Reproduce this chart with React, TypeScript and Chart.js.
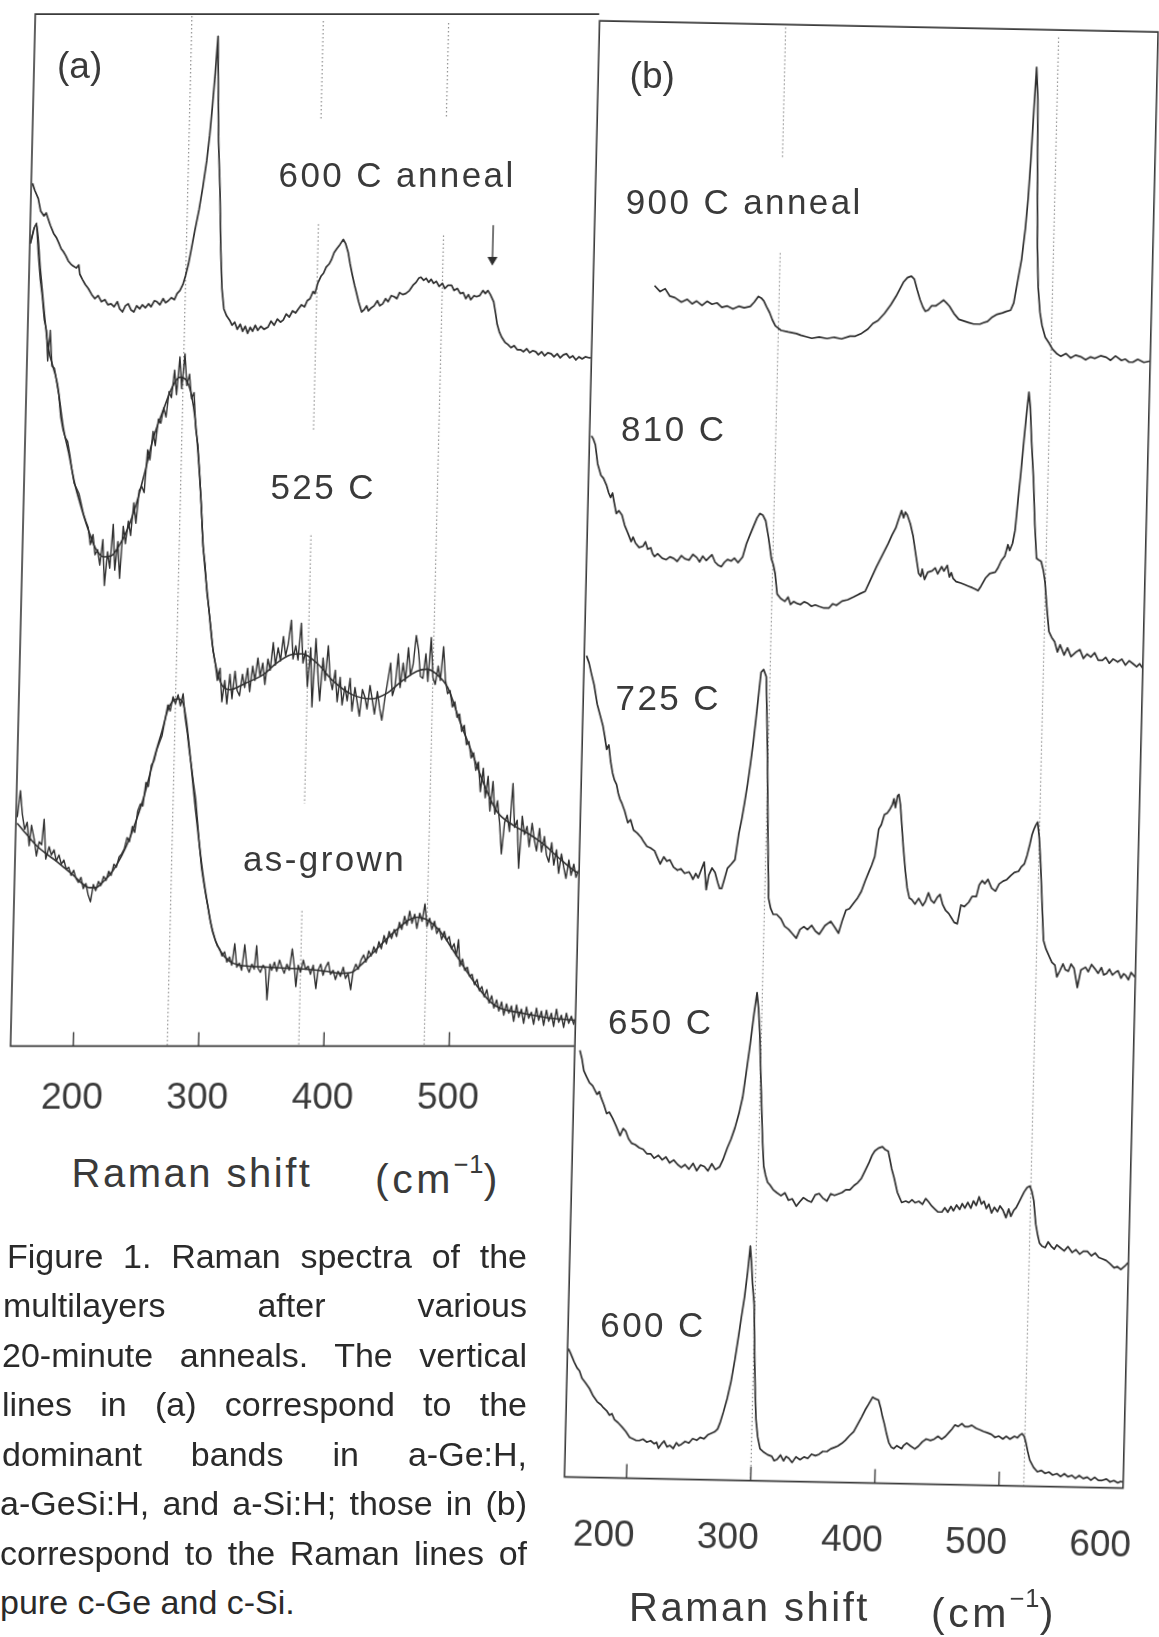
import React, { useEffect, useRef } from "react";
import { Chart, registerables } from "chart.js";

Chart.register(...registerables);

type Pt = [number, number | null];

// ---------------- shared ----------------
const FONT = '"Liberation Sans", Arial, Helvetica, sans-serif';
const INK = "#2f2f2f";
const TEXT = "#3a3a3a";
const REF = "#8e8e8e";

// ---------------- panel (a) data ----------------
const panelAShiftRange = [150, 600];
const panelAIntensityRange = [-0.63, 100.48];
const panelATickValues = [200, 300, 400, 500];
const panelATickLabels = ["200", "300", "400", "500"];

const a600Anneal: Pt[] = [[151,83.9],[153,83.2],[155.9,82.4],[158,81.2],[160.8,80.7],[162.5,81.0],[163.9,80.5],[166,79.8],[168.8,79.0],[171,78.6],[173,78.1],[175.1,77.5],[177,77.2],[179,76.8],[181,76.3],[183.1,76.0],[185,75.8],[187.7,75.6],[189.5,75.9],[190.5,75.0],[192.6,74.5],[195,74.0],[197.5,73.6],[200.4,73.0],[203,72.6],[205.5,72.9],[208.3,72.3],[211,72.5],[213.5,72.0],[216,72.1],[218.5,71.8],[221,72.3],[223,71.6],[225.3,71.3],[227.5,71.9],[229.7,72.1],[232,71.5],[234.4,71.3],[236.5,71.9],[239,71.6],[241,72.0],[243.5,71.7],[246,72.1],[248,71.8],[250.5,72.4],[252.6,72.3],[255,72.0],[257.5,72.6],[259.5,72.2],[261.7,72.4],[264,72.7],[266.5,72.5],[268.5,73.1],[270.7,73.4],[273,74.0],[275,74.9],[277,76.0],[279.1,77.5],[281.5,79.3],[284.4,81.3],[287,83.5],[289.6,86.1],[291.5,88.6],[293.1,91.4],[294.8,94.8],[296.3,98.3],[297.5,93.0],[298.7,88.0],[300.8,83.1],[302.5,77.5],[304.2,73.6],[306.1,71.6],[308.5,70.9],[310.9,70.5],[313,70.0],[315,70.3],[317.2,69.6],[319.5,70.1],[321.5,69.4],[323.5,69.9],[325.5,69.2],[327.5,69.8],[329.4,69.4],[331.5,70.0],[333.5,69.5],[336,69.9],[338.5,69.6],[341.6,69.8],[344,70.4],[346.5,70.0],[349,70.6],[351.5,70.3],[353.7,70.5],[356,71.1],[358.5,70.8],[361,71.4],[363.5,71.2],[365.6,71.6],[368,72.0],[370.5,71.8],[372.5,72.4],[374.7,72.6],[377,73.3],[378.5,73.1],[380.5,74.1],[383,74.8],[385,75.1],[387,75.7],[389.3,76.0],[391,76.4],[393,77.1],[395.1,77.5],[397.5,77.9],[400.1,78.4],[402,78.0],[404.3,77.1],[406,76.0],[408,74.9],[410,73.9],[411.1,73.4],[413.5,72.3],[416.1,71.3],[418,71.5],[420,71.9],[421.5,71.4],[423.7,71.7],[426,71.9],[428.5,72.4],[430.5,71.9],[432.8,72.1],[435,72.6],[437,72.3],[439.5,72.9],[441.8,72.8],[444,72.6],[446,73.2],[448.5,73.0],[451,73.1],[453.9,73.4],[456.5,73.9],[459,74.2],[461,74.6],[462.8,74.7],[465,74.4],[467,74.6],[469,74.2],[471,74.5],[473,74.1],[475.1,74.3],[477.5,73.8],[480,74.1],[482,73.6],[484.5,73.9],[487.4,73.9],[489.5,73.4],[492,73.6],[494.5,73.1],[496.8,73.2],[499,72.6],[501,73.0],[503,72.5],[505.5,72.9],[507.5,72.8],[510,72.9],[512.5,73.4],[514.5,73.1],[516.5,73.4],[518.5,73.0],[521.3,72.3],[523,71.2],[524.5,70.1],[526.5,69.3],[528.5,68.8],[531.3,68.3],[533.5,68.1],[536,67.8],[538.5,68.0],[541,67.6],[543.7,67.6],[546,67.4],[548.5,67.7],[551,67.3],[553.5,67.5],[555.9,67.4],[558,67.1],[560.5,67.4],[563,67.0],[565.5,67.3],[568.2,67.2],[570.5,66.9],[573,67.2],[575.5,66.8],[578,67.1],[580.4,67.2],[583,66.8],[585.5,67.0],[588,66.6],[590.5,66.9],[593,66.7],[595.5,66.9],[598.8,66.8],[600,66.8]];

const a525Noisy: Pt[] = [[150.4,78],[153,79.5],[155,80],[157,77],[159,74.5],[161,72.8],[163,70.5],[165,69.5],[166.5,66.5],[168,69.5],[170,66],[172,65.8],[174,64.5],[176,63.2],[178,61],[180,59.8],[182,59],[184,58.6],[186,57.3],[188,55.8],[190,54.5],[192,54],[194,53.5],[196,52.5],[198,51.5],[200,50.8],[202,50.2],[204,48.5],[206,49.5],[208,47.5],[210,48],[212,46.5],[214,49],[216,44.5],[218,47.8],[220,46.2],[222,50.5],[224,46],[226,48.8],[228,45.2],[230,50.3],[232,48.6],[234,50.8],[236,49.4],[238,52.6],[240,50.6],[242,53.8],[244,54.2],[246,53.6],[248,57.8],[250,56.8],[252,59.6],[254,58.2],[256,60.8],[258,60.4],[260,61.9],[262,61],[264,63.5],[266,62.9],[268,65.6],[270,63.2],[272,66.9],[274,63.8],[276,67.2],[278,64.1],[280,65.2],[282,62.8],[284,63.4],[286,59.8],[288,58.3],[290,55.4],[292,52.1],[294,48.3],[296,46.6],[298,43.8],[300,42.1],[302,40.2],[304,38.1],[306,36.9],[308,35.2],[310,36.4],[312,33.1],[314,35.2],[316,32.9],[318,35.8],[320,33.4],[322,36.1],[324,34.2],[326,33.7],[328,35.8],[330,34.5],[332,36.4],[334,34.1],[336,36.6],[338,35.2],[340,37.4],[342,35.6],[344,36.9],[346,34.8],[348,37.3],[350,36.2],[352,38.9],[354,36.7],[356,38.4],[358,37.1],[360,39.5],[362,37.6],[364,38.8],[366,41.1],[368,37.3],[370,38.6],[372,37.2],[374,40.8],[376,36.9],[378,38.1],[380,34.6],[382,38.4],[384,32.6],[386,39.3],[388,36.1],[390,33.2],[392,37.4],[394,35.2],[396,38.6],[398,35.4],[400,34.3],[402,36.2],[404,33.1],[406,35.5],[408,32.8],[410,34.6],[412,33.2],[414,35.4],[416,32.2],[418,34.5],[420,33.1],[422,31.7],[424,34.3],[426,33.6],[428,32.4],[430,34.7],[432,33.3],[434,31.9],[436,34.1],[438,32.5],[440,31.3],[442,33.4],[444,35.1],[446,36.9],[448,33.7],[450,34.6],[452,37.8],[454,34.5],[456,36.9],[458,35.1],[460,38.4],[462,35.7],[464,36.8],[466,39.6],[468,38.2],[470,35.6],[472,35.4],[474,37.8],[476,35.1],[478,39.4],[480,35.5],[482,34.8],[484,36.6],[486,35.2],[488,38.5],[490,35.3],[492,33.9],[494,34.2],[496,32.6],[498,33.1],[500,31.6],[502,31.9],[504,30.2],[506,30.8],[508,28.9],[510,29.2],[512,27.6],[514,28.1],[516,26.4],[518,27.2],[520,24.3],[522,26.6],[524,23.7],[526,25.8],[528,22.4],[530,25.3],[532,22.1],[534,23.4],[536,21.2],[538,18.2],[540,21.3],[542,22],[544,20.4],[546,25.1],[548,20.8],[550,21.5],[552,16.8],[554,21.9],[556,20.1],[558,20.9],[560,18.9],[562,21.2],[564,19.6],[566,18.5],[568,20.7],[570,18.4],[572,19.9],[574,18.1],[576,17.4],[578,19.3],[580,17.1],[582,18.6],[584,16.3],[586,18.2],[588,16.9],[590,15.8],[592,17.6],[594,16.1],[596,17.2],[598,15.9],[600,16.6]];

const a525Fit: Pt[] = [[150.4,78],[154.9,79.9],[158.8,75.6],[166.3,68.1],[174.6,64.3],[180.2,60],[185,57.5],[190.4,54.5],[195.2,52.5],[202,50],[208,48.2],[215,47.3],[221,47.4],[227,48.4],[234,50.2],[240,52.5],[246,55.5],[252,58.8],[260,61.8],[266,63.8],[272,64.9],[278.5,64.4],[285.4,60.7],[291.4,53.1],[294,48.6],[299.7,42.4],[303.4,38.7],[307,36.4],[312,34.7],[318,34.3],[330,34.9],[345,35.8],[354,36.8],[366,37.7],[375,37.8],[388,36.8],[400,35.2],[416,33.8],[431,33.4],[443,33.9],[455,35.1],[467,36.1],[475,36.3],[483,35.8],[492,34.5],[502,31.3],[515,27.4],[525,24.4],[534,22.3],[547,21],[559,20.2],[571,19.2],[584,17.8],[596,16.6],[600,16.3]];

const aAsGrownNoisy: Pt[] = [[151,21.8],[153,24.4],[155,22.1],[157,20.6],[159,21.3],[161,19.0],[162.5,21.0],[165,19.6],[167,18.0],[169,19.4],[171,19.1],[172.5,21.6],[174.5,17.7],[177,18.9],[179,18.1],[181,18.6],[183,17.5],[185,18.1],[187,17.2],[189,17.6],[191,16.7],[193,16.9],[195,16.1],[197,16.6],[199,15.8],[201,15.4],[203,15.9],[205,14.8],[207,15.3],[209,14.2],[211,13.5],[213,15.2],[215,14.6],[217,15.5],[219,15.1],[221,16.0],[223,15.6],[225,16.5],[227,16.1],[229,17.2],[231,16.9],[233,17.9],[235,18.2],[237,18.7],[239,19.8],[241,19.4],[243,20.9],[245,20.3],[247,22.4],[249,23.1],[251,22.9],[253,25.2],[255,24.8],[257,26.9],[259,27.3],[261,28.4],[263,29.1],[265,29.8],[267,31.3],[269,32.8],[271,32.2],[273,33.6],[275,32.9],[277,33.8],[279,32.7],[281,33.9],[283,31.6],[285,30.1],[287,28.3],[289,26.8],[291,25.1],[293,23.6],[295,21.3],[297,18.9],[299,16.8],[301,15.4],[303,14.1],[305,12.9],[307,11.6],[309,10.7],[311,9.9],[313,9.2],[315,8.9],[317,8.2],[319,8.6],[321,7.6],[323,8.1],[325,7.3],[327,9.4],[329,7.1],[331,7.5],[333,6.8],[335,9.3],[337,7.2],[339,6.6],[341,7.4],[343,6.9],[344.5,9.2],[346,7.0],[348,6.6],[350,7.3],[352,6.9],[353.7,3.9],[355.5,7.4],[357,6.8],[359,7.6],[361,6.7],[363,7.8],[365,7.1],[367,6.5],[369,7.4],[371,6.8],[373,8.9],[375,7.1],[376.5,5.2],[378,7.3],[380,6.6],[382,7.8],[384,6.9],[386,7.2],[388,6.4],[390,7.3],[392.5,5.0],[394,6.8],[396,7.4],[398,6.3],[400,7.1],[402,7.6],[404,6.4],[406,6.8],[408,5.9],[410,6.7],[412,6.2],[414,7.1],[416,6.0],[418,6.5],[420.3,4.9],[422,6.7],[424,7.4],[426,6.9],[428,7.8],[430,8.3],[432,7.6],[434,8.7],[436,8.2],[438,9.1],[440,8.5],[442,9.6],[444,8.9],[446,10.2],[448,9.4],[450,10.6],[452,9.9],[454,10.8],[456,10.1],[458,11.5],[460,10.8],[462,12.1],[464,11.2],[466,12.6],[468,11.4],[470,12.3],[472,10.9],[474,12.4],[476,11.6],[478,13.3],[480,11.1],[482,11.9],[484,10.8],[486,11.6],[488,10.4],[490,10.9],[492,9.8],[494,10.6],[496,9.7],[498,10.1],[500,8.9],[502,9.4],[504,8.2],[505.5,9.8],[507,7.2],[509,7.9],[511,6.8],[513,7.1],[515,6.2],[517,6.4],[519,5.4],[521,5.9],[523,4.8],[525,5.2],[527,4.2],[529,4.9],[531,3.6],[533,4.3],[535,3.1],[537,3.9],[539,2.8],[541,3.7],[543,2.4],[545,3.5],[547,2.6],[549,3.3],[551,1.8],[553,3.4],[555,2.2],[557,3.0],[559,1.6],[561,3.2],[563,2.1],[565,2.7],[567,1.5],[569,3.1],[571,1.9],[573,2.8],[575,1.4],[577,2.9],[579,1.8],[581,2.6],[583,1.3],[585,3.0],[587,1.7],[589,2.4],[591,1.2],[593,2.6],[595,1.6],[597,2.3],[599,1.5],[600,2.0]];

const aAsGrownFit: Pt[] = [[151,21.2],[156,20.5],[161,19.8],[167,19.0],[175,18.2],[183,17.5],[190,16.8],[197,16.1],[204,15.3],[210,14.9],[215,14.9],[221,15.5],[228,16.5],[235,18.0],[241,19.7],[246,21.5],[251,23.5],[256,26.0],[261,28.5],[265,30.3],[269,32.3],[273,33.2],[277,33.4],[281,33.0],[284,31.3],[287,28.6],[290,25.6],[293,22.6],[296.5,19.4],[300,16.4],[304,13.6],[309,10.6],[315,8.8],[323,7.7],[331,7.3],[339,7.2],[354,7.1],[369,7.0],[384,6.9],[400,6.7],[412,6.5],[421,6.6],[428,7.3],[435,8.2],[442,9.1],[450,10.1],[458,11.0],[465,11.7],[472,12.0],[479,11.8],[486,11.2],[494,10.1],[500,9.0],[506,7.9],[512,6.8],[519,5.6],[526,4.5],[532,3.7],[538,3.2],[545,2.9],[553,2.7],[562,2.5],[571,2.3],[580,2.1],[590,2.0],[600,1.9]];

// band markers: a-Ge:H (275), a-GeSi:H (380), a-Si:H (480); null = break
const aGeBand: Pt[] = [[275,100.3],[275,-0.6]];
const aGeSiBand: Pt[] = [[380,99.8],[380,90.2],[380,null],[380,79.9],[380,59.7],[380,null],[380,49.4],[380,23.1],[380,null],[380,12.6],[380,-0.6]];
const aSiBand: Pt[] = [[480,99.6],[480,90.2],[480,null],[480,78.8],[480,-0.6]];
const aSiArrow: Pt[] = [[519.5,79.8],[519.5,76.4]];

// ---------------- panel (b) data ----------------
const panelBShiftRange = [150, 600];
const panelBIntensityRange = [0, 100];
const panelBTickValues = [200, 300, 400, 500];
const panelBTickLabels = ["200", "300", "400", "500", "600"];

const b900: Pt[] = [[199.4,81.9],[204,81.5],[208,81.7],[211.9,81.2],[216,81.1],[221.3,80.8],[226,81.0],[230,80.7],[233.6,80.9],[238,80.6],[242,80.9],[246,80.7],[250,80.8],[254,80.5],[258.4,80.6],[263,80.4],[267.6,80.6],[272,80.5],[276.9,80.6],[280,80.9],[283.2,81.3],[285.5,81.2],[287.7,81.0],[290,80.6],[292.6,80.2],[295,79.7],[297.5,79.3],[302.2,79.0],[308,78.9],[314.6,78.8],[318,78.7],[322.3,78.6],[327,78.5],[333,78.6],[339.3,78.5],[345,78.6],[351,78.5],[357.8,78.7],[362,78.7],[367,78.9],[372,79.2],[376,79.6],[380,79.8],[385.1,80.3],[390,80.9],[394.1,81.5],[397,82.0],[400,82.5],[403,82.8],[406.1,82.9],[408.5,82.7],[410.9,82.0],[413.5,81.3],[415.9,80.8],[418,80.5],[420.3,80.6],[423,80.9],[426.4,80.9],[429.5,81.1],[432.4,81.3],[435,81.1],[437.2,80.9],[441,80.4],[445.1,80.0],[449,79.9],[452.9,79.8],[457,79.7],[462.2,79.7],[465,79.8],[468.3,79.9],[472,80.2],[475.9,80.4],[480,80.5],[483,80.6],[486.6,80.7],[489,81.2],[491,82.3],[493,83.4],[494.5,84.2],[496.9,86.3],[498.6,88.4],[500,91.0],[501.5,94.5],[502.9,97.4],[504.5,95.2],[505.8,89.5],[507,85.0],[508.4,82.3],[510.3,80.6],[512.2,79.7],[515,78.9],[518.2,78.5],[521,78.1],[524.4,77.8],[528,77.6],[532,77.8],[536,77.5],[539.8,77.7],[544,77.6],[548,77.4],[552,77.6],[555.3,77.5],[560,77.7],[564.6,77.6],[568,77.4],[572,77.7],[576.9,77.4],[580,77.5],[583,77.3],[586.1,77.3],[590,77.5],[595,77.3],[600,77.4]];

const b810: Pt[] = [[151.5,71.5],[153,71.3],[154.8,70.9],[157,69.6],[159.9,68.8],[162,68.6],[164.7,68.1],[166.5,67.6],[168.1,67.3],[169.6,67.6],[171,67.0],[173,66.2],[175,66.4],[177.6,66.1],[180,65.4],[182.6,64.9],[185.5,64.3],[187,64.6],[189,64.2],[192,63.9],[195.2,64.0],[197,64.3],[199,63.8],[201.4,63.9],[203,63.5],[204.7,63.3],[207,63.5],[210.8,63.2],[214,63.1],[217,63.3],[220.1,63.2],[223,63.0],[226.2,63.4],[229,63.2],[232.5,63.1],[235.5,63.5],[238.6,63.3],[241,63.0],[243.5,63.4],[246.3,63.1],[248.5,63.3],[250.9,63.5],[253.5,63.0],[256,62.8],[258.7,62.7],[261,63.0],[263.5,63.2],[266.4,63.1],[269,63.3],[272,63.0],[275.6,63.4],[278.4,64.3],[281,64.9],[284.2,65.6],[286.5,66.1],[288.7,66.4],[291,66.3],[293.5,65.9],[296,64.8],[298.8,63.3],[300.5,62.9],[302.1,62.3],[304.1,60.9],[307,60.6],[310.5,60.4],[313,60.7],[315,60.2],[317.5,60.4],[319.8,60.3],[323,60.2],[326,60.4],[328.9,60.3],[332,60.1],[335,60.2],[338.2,60.1],[342,60.0],[346,60.0],[349,60.3],[352,60.2],[356.6,60.5],[361,60.6],[365.8,60.8],[370,61.0],[374.9,61.2],[379,62.0],[383.6,62.9],[388,63.7],[392.5,64.5],[395.5,65.1],[398.4,65.6],[400.5,66.2],[402.7,66.8],[404.5,66.3],[405.8,66.7],[407.4,66.5],[410,65.9],[412.4,65.1],[415,63.8],[417.7,62.5],[419.5,62.3],[420.5,62.8],[422.5,62.1],[425,62.6],[428.5,62.7],[431,62.9],[433,62.5],[436.1,63.0],[438,62.7],[440.6,63.1],[442.5,62.3],[444,62.6],[445.6,62.2],[448,62.0],[451.8,61.9],[455,61.8],[458,61.7],[461.1,61.6],[463.5,61.5],[465.8,61.4],[468,61.7],[471.8,62.3],[475,62.6],[479.4,62.7],[481.5,63.0],[484,63.5],[486.7,63.8],[489,64.6],[490.5,64.2],[492.7,64.7],[494.5,65.6],[496.4,67.8],[498,69.5],[499.9,71.8],[501.5,73.6],[503,75.1],[504.5,74.0],[506,71.8],[508.3,69.2],[510.3,66.0],[512.3,63.7],[514,63.6],[516.1,63.5],[518,62.9],[519.6,62.1],[521.5,60.4],[523.7,58.7],[526,58.3],[528.5,58.0],[531,57.3],[533,57.8],[536.4,57.1],[539,57.6],[542,57.0],[545.6,57.3],[549,57.5],[552,56.9],[554.9,57.2],[558,57.0],[561,57.3],[564,56.8],[567.4,56.8],[570,57.0],[573,56.6],[576,56.9],[579.7,56.7],[583,56.9],[586,56.5],[589,56.8],[592.1,56.6],[595,56.4],[597.5,56.6],[600,56.3]];

const b725: Pt[] = [[151.8,56.4],[154,55.9],[156,55.2],[158.5,54.4],[161.3,53.1],[164,52.3],[166.4,51.6],[168,50.9],[169.8,50.0],[171.5,50.3],[173.2,49.2],[175,48.4],[176.7,47.9],[178.5,47.6],[180,47.0],[181.5,46.6],[183.2,46.3],[185.5,45.8],[188.3,45.0],[190.5,45.2],[193,44.5],[196,44.3],[199.3,44.0],[201.5,43.7],[204.1,43.4],[207,43.3],[210.4,43.1],[213,42.6],[215.2,42.2],[218,42.7],[220.5,42.4],[222.9,42.5],[226,42.0],[229.2,41.8],[232,41.9],[235,41.6],[238.5,41.7],[240,41.5],[241.8,41.2],[244,41.6],[246,41.3],[248.5,41.9],[250.6,42.4],[252.7,40.5],[254.5,41.5],[257,42.0],[259.5,41.7],[261.9,41.0],[263.5,40.6],[265.1,40.6],[267,41.2],[269.4,42.0],[272.5,42.3],[275.3,42.6],[277.9,44.4],[280,45.4],[281.9,46.5],[284,47.8],[285.8,49.1],[287.7,50.6],[289.5,52.3],[291,53.8],[292.7,55.5],[294.7,55.7],[297,55.2],[298.5,52.0],[299.7,49.2],[301.5,44.0],[303.1,40.0],[305,39.3],[307.1,38.9],[310,38.9],[313.5,38.6],[316.5,38.1],[319.8,37.9],[323,37.6],[326.2,37.3],[329,37.9],[332.1,38.1],[335,37.9],[338.3,38.2],[341.5,37.8],[344.6,37.6],[349,38.2],[353.6,38.5],[357,38.1],[360.1,37.7],[363,38.6],[365.7,39.3],[368.5,39.4],[371.8,39.8],[374.5,40.1],[377.7,40.6],[380.5,41.3],[383.6,42.0],[385.5,42.4],[387.8,43.0],[390.5,44.9],[392.5,45.2],[394.8,45.9],[397,46.0],[399.3,46.3],[401,46.6],[402.2,47.0],[403.5,46.4],[405,47.2],[406.1,47.3],[407.5,46.6],[408.8,45.4],[410.5,43.8],[412.8,42.0],[414.5,40.9],[416.5,40.2],[418.5,40.1],[421.2,39.8],[424,40.2],[427.4,39.7],[429.5,40.0],[431.8,40.6],[434,40.1],[436.5,39.9],[439,40.3],[441.1,40.5],[443.5,39.8],[446,39.4],[448.5,39.2],[450.8,38.9],[453,38.6],[455.5,38.5],[457,39.2],[458.2,39.8],[461,39.7],[464.4,40.0],[467,40.4],[470.4,40.4],[472.5,41.2],[474.8,41.5],[477,41.3],[479.4,41.6],[482.5,41.0],[485.7,40.8],[488.5,41.3],[491.7,41.5],[494.5,41.6],[497.8,41.9],[500.5,42.1],[503.9,42.2],[506,42.5],[508.4,42.7],[510.5,43.3],[512.6,44.1],[514,44.7],[515.5,45.1],[517,45.4],[518.4,45.6],[520,44.5],[521.6,42.7],[523.5,40.0],[525.3,37.5],[527.5,36.9],[530.2,36.4],[532.5,36.0],[535,35.8],[536.8,35.0],[539,35.4],[541.5,35.9],[543.5,35.5],[545.9,35.4],[548,35.9],[550.5,35.6],[553.5,34.3],[556,35.5],[559.7,35.7],[562,35.4],[564.5,35.9],[567.4,35.6],[570,35.3],[572.5,35.7],[574.5,35.2],[576.8,35.3],[579,35.6],[581.5,35.2],[584,35.4],[586,35.5],[588.5,35.0],[590.5,35.3],[592.2,35.2],[594.5,34.9],[596.5,35.4],[599.7,35.1]];

const b650: Pt[] = [[154.1,29.3],[156,28.7],[157.7,27.9],[160,27.5],[162.4,27.1],[165,26.9],[168.8,26.3],[170.5,26.5],[172,26.1],[174.5,25.6],[176.9,25.0],[179,25.1],[181.7,24.7],[184.5,24.2],[188.1,23.5],[190.5,24.0],[192.7,23.8],[195,23.3],[197.5,23.0],[200.5,22.9],[203.8,22.7],[207,22.6],[210,22.3],[213.1,22.3],[216,22.0],[219.4,22.2],[222.5,21.9],[225.5,22.1],[228.5,21.7],[231.8,21.9],[235,21.6],[238,21.4],[241,21.6],[244.2,21.3],[247.5,21.7],[250.5,21.2],[253.5,21.6],[256.6,21.5],[259.5,21.2],[262.5,21.7],[265.5,21.3],[268.9,21.5],[271.5,22.0],[274.7,22.8],[277.5,23.4],[280.5,24.2],[283.5,25.2],[286.1,26.3],[288.5,28.0],[291.2,30.0],[293.7,32.1],[295.7,33.5],[297.2,32.4],[298.6,30.8],[300.2,28.0],[301.7,25.5],[303,23.3],[304.4,21.6],[306,21.0],[307.8,20.5],[310,20.3],[312.5,20.0],[315.5,19.8],[318.9,19.6],[322,19.8],[325,19.3],[328,19.4],[331.4,18.9],[334,19.2],[337,19.5],[340.5,19.3],[343.5,19.2],[346.5,19.7],[349.6,19.8],[352.5,19.5],[356,19.3],[359,19.8],[362,19.7],[365,19.8],[368,19.9],[371,20.1],[374.3,20.1],[377.5,20.4],[380.5,20.6],[383.3,20.9],[386,21.4],[389.2,22.0],[391.5,22.5],[393.6,22.8],[396.5,23.0],[399.7,23.1],[402,22.9],[404.4,22.8],[406,22.2],[407.5,21.6],[409.6,21.0],[412.5,20.0],[416.2,19.3],[419.5,19.4],[422,19.3],[424.5,19.5],[427,19.3],[430,19.4],[433,19.2],[435.5,19.6],[437.7,19.4],[440.5,19.1],[443,18.9],[445.5,18.7],[448.8,18.7],[451,19.0],[453.5,18.7],[456,19.1],[458,18.8],[460.5,19.2],[463,18.9],[465,19.3],[467.2,19.0],[469.5,19.4],[472,19.0],[474,19.5],[476.3,19.2],[478.5,19.8],[480.5,19.3],[482.5,19.5],[484.5,19.0],[486.5,19.3],[488.8,18.7],[491,19.1],[493.5,18.8],[495.5,19.2],[498,18.9],[500.5,18.4],[502.5,19.0],[504.4,18.5],[506.5,18.9],[508.5,19.1],[510.2,19.4],[512.5,19.8],[514.7,20.2],[517,20.5],[519.2,20.6],[521,20.2],[522.6,19.6],[524.6,18.0],[526.5,17.2],[528,16.7],[530,16.5],[532.7,16.4],[535,16.8],[537.5,16.5],[540,16.3],[542,16.6],[545,16.4],[548,16.2],[551,16.5],[554.4,16.1],[557.5,16.3],[560.5,16.0],[563.5,16.2],[566.7,16.2],[570,15.9],[573,16.1],[576,15.8],[579.2,15.7],[582,15.6],[585,15.4],[588.6,15.1],[591,15.2],[594,15.0],[597.8,15.3],[600,15.5]];

const b600: Pt[] = [[150.7,8.8],[152.5,8.5],[155.6,7.9],[158,7.5],[160,7.3],[162.1,6.8],[165,6.5],[168.4,6.1],[171.5,5.6],[174.9,5.2],[178,5.0],[180,4.8],[182.6,4.6],[185,4.3],[187,4.4],[189.1,4.0],[192,3.8],[195.4,3.5],[198.5,3.2],[201.7,2.8],[204.5,2.7],[207,2.6],[209.6,2.6],[212.5,2.7],[215.5,2.5],[218.7,2.6],[221.5,2.4],[223.5,2.5],[225.1,2.1],[227.5,2.4],[229.5,2.6],[232,2.2],[234.3,2.3],[237,2.1],[239.5,2.5],[241.5,2.3],[243.5,2.4],[246.5,2.6],[249.5,2.5],[252.5,2.8],[255.8,2.7],[258.5,2.9],[261.5,2.8],[264.9,3.1],[267.5,3.2],[270,3.3],[272.4,3.5],[274.5,4.0],[276.8,4.7],[279.5,5.6],[282.3,6.8],[285,8.3],[287.6,10.0],[289.5,11.3],[291.5,12.6],[293.5,14.3],[295.2,16.1],[296.6,14.8],[297.7,13.5],[299.4,12.1],[300.8,8.5],[302,6.0],[303.1,4.2],[304.8,3.0],[306.9,2.2],[309.5,2.0],[313.1,1.8],[316.5,1.7],[318.5,1.4],[320.9,1.5],[323.5,1.8],[326,1.4],[328,1.7],[330.1,1.6],[333,1.3],[336,1.7],[339.3,1.5],[342.5,1.7],[345.5,1.6],[348.5,1.9],[351.6,1.8],[354.5,1.9],[357.5,2.1],[360.8,2.1],[364,2.3],[367,2.4],[369.5,2.5],[372.9,2.7],[375.5,2.9],[378.5,3.2],[382,3.5],[385,4.0],[388,4.5],[390.8,5.0],[393.5,5.4],[396.7,5.9],[398.5,5.8],[401.4,5.7],[403.5,5.1],[404.8,4.6],[406.5,4.1],[408.5,3.4],[410.5,2.8],[412.5,2.5],[414.7,2.4],[417,2.6],[419,2.5],[421,2.4],[422.3,2.6],[425,2.8],[428,2.6],[431.6,2.4],[434.5,2.6],[437.5,2.9],[440.6,3.1],[444,3.0],[447,3.1],[450,3.3],[453,3.1],[456,3.3],[459,3.6],[461,3.8],[463.4,4.1],[466,4.0],[469,4.2],[471.5,4.0],[474.4,4.0],[477,4.1],[480.5,3.9],[483.7,3.8],[486.5,3.7],[490,3.6],[493.1,3.5],[496,3.3],[499,3.4],[502.3,3.2],[505,3.4],[508,3.2],[511.6,3.4],[514,3.3],[516,3.5],[517.7,3.6],[519.5,3.4],[520.9,3.0],[522.5,2.4],[524.3,1.8],[527.5,1.3],[530.7,1.0],[534,1.1],[537,0.9],[540,1.0],[543.1,0.8],[546.5,0.9],[549.5,0.7],[552.5,0.9],[555.4,0.7],[558.5,0.8],[561.5,0.6],[564.5,0.8],[567.8,0.6],[571,0.7],[574,0.5],[577,0.7],[580,0.5],[583.2,0.5],[586.5,0.6],[589.5,0.4],[592.5,0.5],[595.7,0.35],[598,0.45],[600,0.4]];

// c-Ge (300) and c-Si (520) reference lines
const bGeLine: Pt[] = [[300,99.8],[300,90.9],[300,null],[300,84.3],[300,0]];
const bSiLine: Pt[] = [[520,99.5],[520,0]];

// ---------------- text ----------------
const panelALabels = ["600 C anneal", "525 C", "as-grown"];
const panelBLabels = ["900 C anneal", "810 C", "725 C", "650 C", "600 C"];
const axisTitle = "Raman shift";
const captionLines = [
  "Figure 1.  Raman spectra of the",
  "multilayers after various",
  "20-minute anneals.  The vertical",
  "lines in (a) correspond to the",
  "dominant bands in a-Ge:H,",
  "a-GeSi:H, and a-Si:H; those in (b)",
  "correspond to the Raman lines of",
  "pure c-Ge and c-Si.",
];

// ---------------- helpers ----------------
const toXY = (pts: Pt[]) => pts.map(([x, y]) => ({ x, y }));

const spectrum = (pts: Pt[], extra: any = {}) => ({
  data: toXY(pts),
  borderColor: INK,
  borderWidth: 1.7,
  pointRadius: 0,
  tension: 0,
  borderJoinStyle: "round",
  order: 0,
  ...extra,
});

const refLine = (pts: Pt[]) => ({
  data: toXY(pts),
  borderColor: REF,
  borderWidth: 1.2,
  borderDash: [1.5, 2.5],
  pointRadius: 0,
  spanGaps: false,
  order: 5,
});

const framePlugin = (closed: boolean, ticks: number[], fill: boolean) => ({
  id: "frame",
  beforeDatasetsDraw(chart: any) {
    if (!fill) return;
    const { ctx, chartArea: a } = chart;
    ctx.save();
    ctx.fillStyle = "#ffffff";
    ctx.fillRect(a.left, a.top, a.right - a.left, a.bottom - a.top);
    ctx.restore();
  },
  afterDraw(chart: any) {
    const { ctx, chartArea: a, scales } = chart;
    ctx.save();
    ctx.strokeStyle = "#3a3a3a";
    ctx.lineWidth = 1.6;
    ctx.beginPath();
    if (closed) {
      ctx.rect(a.left, a.top, a.right - a.left, a.bottom - a.top);
    } else {
      ctx.moveTo(a.right, a.top);
      ctx.lineTo(a.left, a.top);
      ctx.lineTo(a.left, a.bottom);
      ctx.lineTo(a.right, a.bottom);
    }
    ctx.stroke();
    ctx.lineWidth = 1.4;
    for (const v of ticks) {
      const x = scales.x.getPixelForValue(v);
      ctx.beginPath();
      ctx.moveTo(x, a.bottom);
      ctx.lineTo(x, a.bottom - 14);
      ctx.stroke();
    }
    ctx.restore();
  },
});

const makeOptions = (o: {
  xr: number[]; yr: number[]; pad: any; axisH: number; labels: string[];
  labelOffset: number; labelPad: number;
}) => ({
  animation: false,
  responsive: false,
  maintainAspectRatio: false,
  devicePixelRatio: 1,
  events: [],
  layout: { padding: o.pad },
  plugins: { legend: { display: false }, tooltip: { enabled: false } },
  scales: {
    x: {
      type: "linear",
      min: o.xr[0],
      max: o.xr[1],
      grid: { display: false, drawTicks: false },
      border: { display: false },
      afterFit: (s: any) => { s.height = o.axisH; },
      ticks: {
        stepSize: 100,
        includeBounds: false,
        autoSkip: false,
        maxRotation: 0,
        padding: o.labelPad,
        labelOffset: o.labelOffset,
        color: TEXT,
        font: { family: FONT, size: 37, lineHeight: 1.2 },
        callback: (v: number) => {
          const s = String(v);
          return o.labels.includes(s) ? s : "";
        },
      },
    },
    y: { type: "linear", min: o.yr[0], max: o.yr[1], display: false },
  },
});

const Txt = (p: { x: number; base: number; size: number; ls?: number; children: any; style?: any }) => (
  <div
    style={{
      position: "absolute",
      left: p.x,
      top: p.base - 0.8465 * p.size,
      fontSize: p.size,
      lineHeight: 1,
      letterSpacing: p.ls ?? 0,
      whiteSpace: "nowrap",
      ...(p.style || {}),
    }}
  >
    {p.children}
  </div>
);

const Unit = () => (
  <>
    (cm<sup style={{ fontSize: "0.62em", verticalAlign: "0.8em", letterSpacing: 0.5 }}>−1</sup>)
  </>
);

export default function App() {
  const aRef = useRef<HTMLCanvasElement>(null);
  const bRef = useRef<HTMLCanvasElement>(null);

  useEffect(() => {
    const chartA = new Chart(aRef.current as HTMLCanvasElement, {
      type: "line",
      data: {
        datasets: [
          spectrum(a600Anneal),
          spectrum(a525Noisy, { borderWidth: 1.4 }),
          spectrum(a525Fit, { borderWidth: 1.6, cubicInterpolationMode: "monotone" }),
          spectrum(aAsGrownNoisy, { borderWidth: 1.4 }),
          spectrum(aAsGrownFit, { borderWidth: 1.6, cubicInterpolationMode: "monotone" }),
          {
            data: toXY(aSiArrow),
            borderColor: INK,
            borderWidth: 1.3,
            pointRadius: [0, 4.5],
            pointStyle: "triangle",
            rotation: 180,
            pointBackgroundColor: INK,
            pointBorderColor: INK,
            order: 0,
          },
          refLine(aGeBand),
          refLine(aGeSiBand),
          refLine(aSiBand),
        ] as any,
      },
      options: makeOptions({
        xr: panelAShiftRange,
        yr: panelAIntensityRange,
        pad: { left: 23, right: 53.1, top: 14.1, bottom: 0 },
        axisH: 93.6,
        labels: panelATickLabels,
        labelOffset: 0,
        labelPad: 30,
      }) as any,
      plugins: [framePlugin(false, panelATickValues, false)],
    });

    const chartB = new Chart(bRef.current as HTMLCanvasElement, {
      type: "line",
      data: {
        datasets: [
          spectrum(b900),
          spectrum(b810),
          spectrum(b725),
          spectrum(b650),
          spectrum(b600),
          refLine(bGeLine),
          refLine(bSiLine),
        ] as any,
      },
      options: makeOptions({
        xr: panelBShiftRange,
        yr: panelBIntensityRange,
        pad: { left: 42.2, right: 99.2, top: 26.1, bottom: 0 },
        axisH: 97.4,
        labels: panelBTickLabels,
        labelOffset: -21.5,
        labelPad: 36,
      }) as any,
      plugins: [framePlugin(true, panelBTickValues, true)],
    });

    return () => {
      chartA.destroy();
      chartB.destroy();
    };
  }, []);

  const capBase = (i: number) => 1267.5 + 49.5 * i;
  const capLeft = [7, 3, 2, 2, 2, 0, 0, 0];

  return (
    <div
      style={{
        position: "absolute",
        left: 0,
        top: 0,
        width: 1159,
        height: 1637,
        overflow: "hidden",
        background: "#ffffff",
        fontFamily: FONT,
        color: TEXT,
      }}
    >
      <canvas
        ref={aRef}
        width={640}
        height={1140}
        style={{
          position: "absolute",
          left: 0,
          top: 0,
          width: 640,
          height: 1140,
          transformOrigin: "0px 527px",
          transform: "matrix(1, 0, -0.024, 1, 0, 0)",
        }}
      />
      <canvas
        ref={bRef}
        width={700}
        height={1580}
        style={{
          position: "absolute",
          left: 540,
          top: 0,
          width: 700,
          height: 1580,
          transformOrigin: "305.7px 748.6px",
          transform: "matrix(1, 0.02, -0.0241, 1, 0, 0)",
        }}
      />

      {/* panel labels */}
      <Txt x={57} base={78.4} size={37}>(a)</Txt>
      <Txt x={629.6} base={88.4} size={37}>(b)</Txt>

      {/* spectrum labels, panel (a) */}
      <Txt x={278.6} base={186.4} size={35} ls={2.4}>{panelALabels[0]}</Txt>
      <Txt x={270.5} base={499} size={35} ls={2.4}>{panelALabels[1]}</Txt>
      <Txt x={243} base={871} size={35} ls={2.4}>{panelALabels[2]}</Txt>

      {/* spectrum labels, panel (b) */}
      <Txt x={625.7} base={213.6} size={35} ls={2.4}>{panelBLabels[0]}</Txt>
      <Txt x={621} base={440.4} size={35} ls={2.4}>{panelBLabels[1]}</Txt>
      <Txt x={615.6} base={710} size={35} ls={2.4}>{panelBLabels[2]}</Txt>
      <Txt x={608} base={1033.5} size={35} ls={2.4}>{panelBLabels[3]}</Txt>
      <Txt x={600.3} base={1336.3} size={35} ls={2.4}>{panelBLabels[4]}</Txt>

      {/* axis titles */}
      <Txt x={71.5} base={1187} size={40} ls={2.5}>{axisTitle}</Txt>
      <Txt x={375} base={1187} size={41} ls={3.5}><Unit /></Txt>
      <Txt x={629} base={1621} size={40} ls={2.5}>{axisTitle}</Txt>
      <Txt x={931} base={1621} size={41} ls={3.5}><Unit /></Txt>

      {/* caption */}
      {captionLines.map((line, i) => (
        <div
          key={i}
          style={{
            position: "absolute",
            left: capLeft[i],
            top: capBase(i) - 0.8465 * 34,
            width: i < captionLines.length - 1 ? 527 - capLeft[i] : undefined,
            fontSize: 34,
            lineHeight: 1,
            whiteSpace: i < captionLines.length - 1 ? "normal" : "nowrap",
            textAlign: "justify",
            textAlignLast: i < captionLines.length - 1 ? "justify" : "left",
            color: "#2a2a2a",
          }}
        >
          {line}
        </div>
      ))}
    </div>
  );
}
